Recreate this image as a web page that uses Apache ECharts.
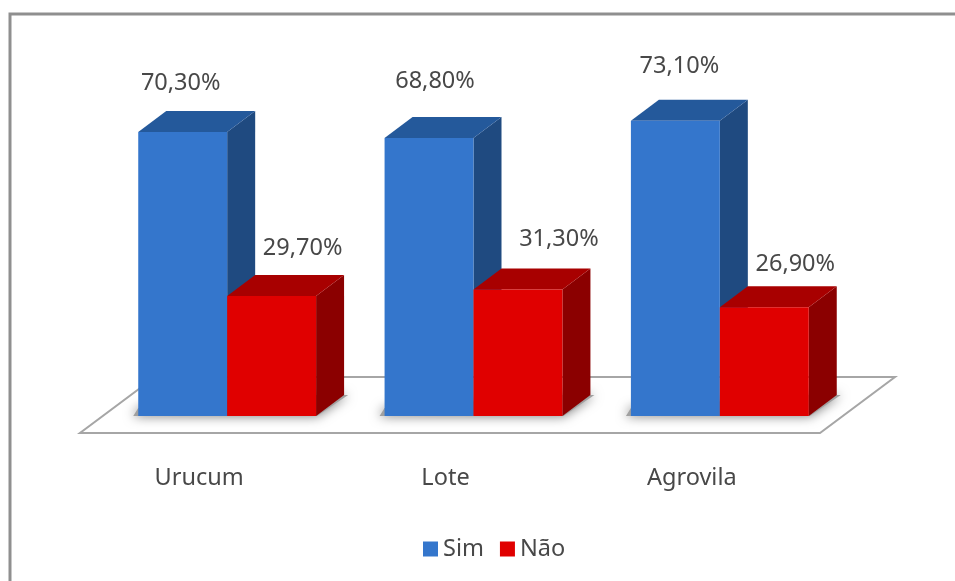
<!DOCTYPE html>
<html>
<head>
<meta charset="utf-8">
<title>Sim / Não</title>
<style>
html,body{margin:0;padding:0;background:#fff;}
#chart{width:955px;height:581px;filter:blur(0.6px);}
</style>
<script src="https://cdn.jsdelivr.net/npm/echarts@6/dist/echarts.min.js"></script>
</head>
<body>
<div id="chart"></div>
<script>
var categories = ['Urucum', 'Lote', 'Agrovila'];
var simValues = [70.3, 68.8, 73.1];
var naoValues = [29.7, 31.3, 26.9];

// the labels were placed by hand in the original, so each one has its own nudge
var simLabelNudge = [[-2, -49], [6, -57], [4, -54]];
var naoLabelNudge = [[31, -48], [41, -50], [31, -43]];

var depthX = 28;
var depthY = 21;
var textColor = '#484848';
var fontName = '"Noto Sans", sans-serif';

function fmtPercent(v){
	return v.toFixed(2).replace('.', ',') + '%';
}

function barRenderer(side, colors, nudges){
	return function(params, api){
		var idx = api.value(0);
		var base = api.coord([idx, 0]);
		var top = api.coord([idx, api.value(1)]);
		var w = api.size([1, 0])[0] * 0.361;
		var x0 = side < 0 ? base[0] - w : base[0];
		var x1 = x0 + w;
		var nudge = nudges[params.dataIndex];
		return {
			type: 'group',
			children: [
				{type: 'polygon', shape: {points: [[x1, base[1]], [x1 + depthX, base[1] - depthY], [x1 + depthX, top[1] - depthY], [x1, top[1]]]}, style: {fill: colors.side}},
				{type: 'polygon', shape: {points: [[x0, top[1]], [x0 + depthX, top[1] - depthY], [x1 + depthX, top[1] - depthY], [x1, top[1]]]}, style: {fill: colors.top}},
				{type: 'rect', shape: {x: x0, y: top[1], width: w, height: base[1] - top[1]}, style: {fill: colors.front}},
				{type: 'text', style: {
					x: (x0 + x1) / 2 + nudge[0],
					y: top[1] + nudge[1],
					text: fmtPercent(api.value(1)),
					fill: textColor,
					font: '23.5px ' + fontName,
					align: 'center',
					verticalAlign: 'middle'
				}}
			]
		};
	};
}

// floor plate and the soft shadows under each pair of bars
function floorRenderer(params, api){
	var grid = params.coordSys;
	var bottom = grid.y + grid.height;
	var floorFront = bottom + 17;
	var floorBack = bottom - 39;
	var left = grid.x;
	var right = grid.x + grid.width;
	var children = [{
		type: 'polygon',
		shape: {points: [[left - 24, floorFront], [right - 23, floorFront], [right + 52, floorBack], [left + 51, floorBack]]},
		style: {fill: '#fff', stroke: '#a6a6a6', lineWidth: 2}
	}];
	categories.forEach(function(c, i){
		var p = api.coord([i, 0]);
		var w = api.size([1, 0])[0] * 0.361;
		children.push({
			type: 'polygon',
			shape: {points: [[p[0] - w - 5, p[1]], [p[0] + w + 1, p[1]], [p[0] + w + depthX + 4, p[1] - depthY], [p[0] + w, p[1] - depthY], [p[0] - w, p[1] - 8]]},
			style: {fill: '#a0a0a0', shadowBlur: 12, shadowColor: '#777'}
		});
	});
	return {type: 'group', children: children};
}

var chart = echarts.init(document.getElementById('chart'));
var option = {
	animation: false,
	backgroundColor: '#fff',
	color: ['#3476cc', '#e00000'],
	grid: {left: 104, right: 112, top: 12, bottom: 165},
	legend: {
		data: ['Sim', 'Não'],
		left: 418,
		top: 532,
		icon: 'rect',
		itemWidth: 15,
		itemHeight: 15,
		itemGap: 16,
		textStyle: {color: textColor, fontSize: 23.5, fontFamily: fontName}
	},
	xAxis: {
		type: 'category',
		data: categories,
		axisLine: {show: false},
		axisTick: {show: false},
		axisLabel: {
			interval: 0,
			margin: 50,
			color: textColor,
			fontSize: 23.5,
			fontFamily: fontName,
			padding: [0, 56, 0, 0]
		}
	},
	yAxis: {
		type: 'value',
		min: 0,
		max: 100,
		show: false
	},
	graphic: [
		{type: 'polyline', shape: {points: [[10, 581], [10, 14], [955, 14]]}, style: {fill: null, stroke: '#8f8f8f', lineWidth: 3}, silent: true}
	],
	series: [
		{
			type: 'custom',
			silent: true,
			z: 1,
			renderItem: floorRenderer,
			data: [0]
		},
		{
			name: 'Sim',
			type: 'custom',
			z: 2,
			itemStyle: {color: '#3476cc'},
			renderItem: barRenderer(-1, {front: '#3476cc', top: '#24599b', side: '#1f4a80'}, simLabelNudge),
			encode: {x: 0, y: 1},
			data: simValues.map(function(v, i){ return [i, v]; })
		},
		{
			name: 'Não',
			type: 'custom',
			z: 3,
			itemStyle: {color: '#e00000'},
			renderItem: barRenderer(1, {front: '#e00000', top: '#a80000', side: '#8b0000'}, naoLabelNudge),
			encode: {x: 0, y: 1},
			data: naoValues.map(function(v, i){ return [i, v]; })
		}
	]
};
chart.setOption(option);
</script>
</body>
</html>
